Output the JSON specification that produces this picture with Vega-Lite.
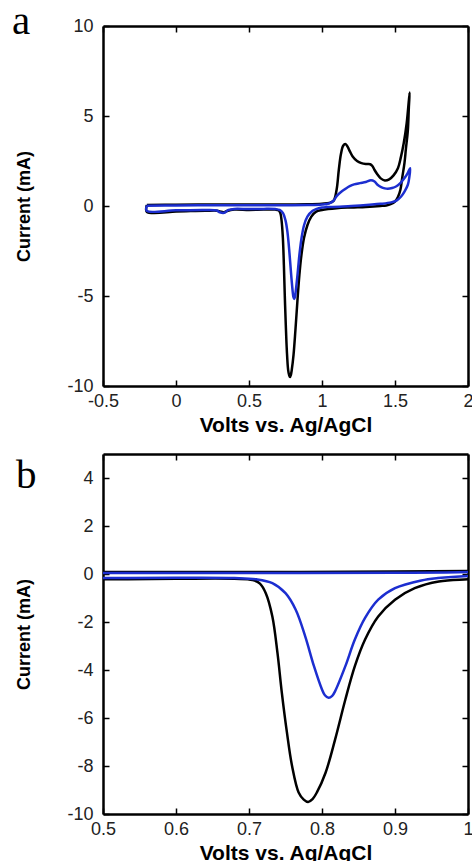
{
  "$schema": "https://vega.github.io/schema/vega-lite/v6.json",
  "padding": {"left": 11, "top": 1, "right": 0, "bottom": 0},
  "spacing": 18,
  "config": {
    "view": {"stroke": null},
    "font": "Liberation Sans",
    "axis": {"grid": false, "domainColor": "black", "domainWidth": 2.5, "tickColor": "black", "tickWidth": 1.5, "tickSize": -6, "labelFont": "Liberation Sans", "labelFontSize": 18, "labelColor": "#222", "labelFlush": false, "labelOverlap": false, "titleFont": "Liberation Sans", "titleFontWeight": "bold", "titleColor": "black"},
    "axisX": {"labelPadding": 12, "titleFontSize": 21, "titlePadding": 4},
    "axisY": {"labelPadding": 16, "titleFontSize": 18, "titlePadding": 33},
    "title": {"font": "Liberation Serif", "fontSize": 41, "fontWeight": "normal", "anchor": "start", "color": "black"}
  },
  "datasets": {
    "cv": [
      {"s": "black", "k": 1, "v": -0.2, "i": 0.05},
      {"s": "black", "k": 2, "v": 0, "i": 0.07},
      {"s": "black", "k": 3, "v": 0.3, "i": 0.08},
      {"s": "black", "k": 4, "v": 0.5, "i": 0.08},
      {"s": "black", "k": 5, "v": 0.7, "i": 0.08},
      {"s": "black", "k": 6, "v": 0.9, "i": 0.1},
      {"s": "black", "k": 7, "v": 1.0, "i": 0.13},
      {"s": "black", "k": 8, "v": 1.05, "i": 0.17},
      {"s": "black", "k": 9, "v": 1.08, "i": 0.3},
      {"s": "black", "k": 10, "v": 1.1, "i": 0.9},
      {"s": "black", "k": 11, "v": 1.115, "i": 2.0},
      {"s": "black", "k": 12, "v": 1.13, "i": 2.9},
      {"s": "black", "k": 13, "v": 1.145, "i": 3.35},
      {"s": "black", "k": 14, "v": 1.16, "i": 3.45},
      {"s": "black", "k": 15, "v": 1.175, "i": 3.3},
      {"s": "black", "k": 16, "v": 1.19, "i": 3.05},
      {"s": "black", "k": 17, "v": 1.21, "i": 2.75},
      {"s": "black", "k": 18, "v": 1.24, "i": 2.5},
      {"s": "black", "k": 19, "v": 1.27, "i": 2.38},
      {"s": "black", "k": 20, "v": 1.3, "i": 2.33},
      {"s": "black", "k": 21, "v": 1.33, "i": 2.32},
      {"s": "black", "k": 22, "v": 1.345, "i": 2.22},
      {"s": "black", "k": 23, "v": 1.36, "i": 2.0},
      {"s": "black", "k": 24, "v": 1.38, "i": 1.75},
      {"s": "black", "k": 25, "v": 1.4, "i": 1.55},
      {"s": "black", "k": 26, "v": 1.43, "i": 1.42},
      {"s": "black", "k": 27, "v": 1.46, "i": 1.48},
      {"s": "black", "k": 28, "v": 1.49, "i": 1.7},
      {"s": "black", "k": 29, "v": 1.52, "i": 2.1},
      {"s": "black", "k": 30, "v": 1.54, "i": 2.7},
      {"s": "black", "k": 31, "v": 1.56, "i": 3.5},
      {"s": "black", "k": 32, "v": 1.58, "i": 4.6},
      {"s": "black", "k": 33, "v": 1.6, "i": 6.3},
      {"s": "black", "k": 34, "v": 1.595, "i": 5.5},
      {"s": "black", "k": 35, "v": 1.588, "i": 4.2},
      {"s": "black", "k": 36, "v": 1.575, "i": 3.2},
      {"s": "black", "k": 37, "v": 1.565, "i": 2.4},
      {"s": "black", "k": 38, "v": 1.55, "i": 1.6},
      {"s": "black", "k": 39, "v": 1.537, "i": 0.9},
      {"s": "black", "k": 40, "v": 1.52, "i": 0.5},
      {"s": "black", "k": 41, "v": 1.5, "i": 0.25},
      {"s": "black", "k": 42, "v": 1.47, "i": 0.1},
      {"s": "black", "k": 43, "v": 1.44, "i": 0.03},
      {"s": "black", "k": 44, "v": 1.4, "i": 0.0},
      {"s": "black", "k": 45, "v": 1.3, "i": -0.05},
      {"s": "black", "k": 46, "v": 1.2, "i": -0.08},
      {"s": "black", "k": 47, "v": 1.1, "i": -0.12},
      {"s": "black", "k": 48, "v": 1.0, "i": -0.22},
      {"s": "black", "k": 49, "v": 0.96, "i": -0.31},
      {"s": "black", "k": 50, "v": 0.927, "i": -0.59},
      {"s": "black", "k": 51, "v": 0.9, "i": -1.07},
      {"s": "black", "k": 52, "v": 0.877, "i": -1.77},
      {"s": "black", "k": 53, "v": 0.859, "i": -2.73},
      {"s": "black", "k": 54, "v": 0.845, "i": -3.84},
      {"s": "black", "k": 55, "v": 0.832, "i": -5.23},
      {"s": "black", "k": 56, "v": 0.818, "i": -6.89},
      {"s": "black", "k": 57, "v": 0.805, "i": -8.27},
      {"s": "black", "k": 58, "v": 0.793, "i": -9.1},
      {"s": "black", "k": 59, "v": 0.787, "i": -9.38},
      {"s": "black", "k": 60, "v": 0.781, "i": -9.5},
      {"s": "black", "k": 61, "v": 0.775, "i": -9.4},
      {"s": "black", "k": 62, "v": 0.768, "i": -9.1},
      {"s": "black", "k": 63, "v": 0.759, "i": -8.0},
      {"s": "black", "k": 64, "v": 0.752, "i": -6.61},
      {"s": "black", "k": 65, "v": 0.745, "i": -4.95},
      {"s": "black", "k": 66, "v": 0.739, "i": -3.29},
      {"s": "black", "k": 67, "v": 0.732, "i": -1.77},
      {"s": "black", "k": 68, "v": 0.723, "i": -0.8},
      {"s": "black", "k": 69, "v": 0.715, "i": -0.4},
      {"s": "black", "k": 70, "v": 0.705, "i": -0.25},
      {"s": "black", "k": 71, "v": 0.68, "i": -0.2},
      {"s": "black", "k": 72, "v": 0.6, "i": -0.2},
      {"s": "black", "k": 73, "v": 0.5, "i": -0.22},
      {"s": "black", "k": 74, "v": 0.4, "i": -0.2},
      {"s": "black", "k": 75, "v": 0.35, "i": -0.28},
      {"s": "black", "k": 76, "v": 0.33, "i": -0.35},
      {"s": "black", "k": 77, "v": 0.31, "i": -0.32},
      {"s": "black", "k": 78, "v": 0.28, "i": -0.26},
      {"s": "black", "k": 79, "v": 0.2, "i": -0.27},
      {"s": "black", "k": 80, "v": 0.1, "i": -0.28},
      {"s": "black", "k": 81, "v": 0, "i": -0.3},
      {"s": "black", "k": 82, "v": -0.2, "i": -0.32},
      {"s": "black", "k": 83, "v": -0.2, "i": 0.05},
      {"s": "blue", "k": 1, "v": -0.2, "i": 0.02},
      {"s": "blue", "k": 2, "v": 0, "i": 0.03},
      {"s": "blue", "k": 3, "v": 0.3, "i": 0.04},
      {"s": "blue", "k": 4, "v": 0.5, "i": 0.04},
      {"s": "blue", "k": 5, "v": 0.7, "i": 0.04},
      {"s": "blue", "k": 6, "v": 0.9, "i": 0.05},
      {"s": "blue", "k": 7, "v": 1.0, "i": 0.08},
      {"s": "blue", "k": 8, "v": 1.05, "i": 0.15},
      {"s": "blue", "k": 9, "v": 1.08, "i": 0.3},
      {"s": "blue", "k": 10, "v": 1.1, "i": 0.55},
      {"s": "blue", "k": 11, "v": 1.13, "i": 0.78},
      {"s": "blue", "k": 12, "v": 1.16, "i": 0.95},
      {"s": "blue", "k": 13, "v": 1.19, "i": 1.1},
      {"s": "blue", "k": 14, "v": 1.22, "i": 1.2},
      {"s": "blue", "k": 15, "v": 1.26, "i": 1.27},
      {"s": "blue", "k": 16, "v": 1.3, "i": 1.33},
      {"s": "blue", "k": 17, "v": 1.335, "i": 1.43},
      {"s": "blue", "k": 18, "v": 1.36, "i": 1.36},
      {"s": "blue", "k": 19, "v": 1.38, "i": 1.18},
      {"s": "blue", "k": 20, "v": 1.405, "i": 1.05},
      {"s": "blue", "k": 21, "v": 1.43, "i": 0.98},
      {"s": "blue", "k": 22, "v": 1.45, "i": 0.96},
      {"s": "blue", "k": 23, "v": 1.48, "i": 1.0},
      {"s": "blue", "k": 24, "v": 1.51, "i": 1.1},
      {"s": "blue", "k": 25, "v": 1.54, "i": 1.3},
      {"s": "blue", "k": 26, "v": 1.565, "i": 1.55},
      {"s": "blue", "k": 27, "v": 1.585, "i": 1.8},
      {"s": "blue", "k": 28, "v": 1.604, "i": 2.1},
      {"s": "blue", "k": 29, "v": 1.598, "i": 1.6},
      {"s": "blue", "k": 30, "v": 1.588, "i": 1.18},
      {"s": "blue", "k": 31, "v": 1.565, "i": 0.8},
      {"s": "blue", "k": 32, "v": 1.542, "i": 0.53},
      {"s": "blue", "k": 33, "v": 1.51, "i": 0.3},
      {"s": "blue", "k": 34, "v": 1.474, "i": 0.2},
      {"s": "blue", "k": 35, "v": 1.4, "i": 0.12},
      {"s": "blue", "k": 36, "v": 1.325, "i": 0.07},
      {"s": "blue", "k": 37, "v": 1.2, "i": 0.0},
      {"s": "blue", "k": 38, "v": 1.12, "i": -0.04},
      {"s": "blue", "k": 39, "v": 1.03, "i": -0.06},
      {"s": "blue", "k": 40, "v": 1.0, "i": -0.08},
      {"s": "blue", "k": 41, "v": 0.959, "i": -0.17},
      {"s": "blue", "k": 42, "v": 0.936, "i": -0.27},
      {"s": "blue", "k": 43, "v": 0.9, "i": -0.59},
      {"s": "blue", "k": 44, "v": 0.877, "i": -1.07},
      {"s": "blue", "k": 45, "v": 0.859, "i": -1.83},
      {"s": "blue", "k": 46, "v": 0.845, "i": -2.73},
      {"s": "blue", "k": 47, "v": 0.832, "i": -3.84},
      {"s": "blue", "k": 48, "v": 0.818, "i": -4.88},
      {"s": "blue", "k": 49, "v": 0.814, "i": -5.08},
      {"s": "blue", "k": 50, "v": 0.809, "i": -5.16},
      {"s": "blue", "k": 51, "v": 0.804, "i": -5.05},
      {"s": "blue", "k": 52, "v": 0.8, "i": -4.81},
      {"s": "blue", "k": 53, "v": 0.789, "i": -3.84},
      {"s": "blue", "k": 54, "v": 0.777, "i": -2.6},
      {"s": "blue", "k": 55, "v": 0.764, "i": -1.49},
      {"s": "blue", "k": 56, "v": 0.75, "i": -0.8},
      {"s": "blue", "k": 57, "v": 0.732, "i": -0.38},
      {"s": "blue", "k": 58, "v": 0.71, "i": -0.22},
      {"s": "blue", "k": 59, "v": 0.68, "i": -0.17},
      {"s": "blue", "k": 60, "v": 0.6, "i": -0.16},
      {"s": "blue", "k": 61, "v": 0.5, "i": -0.17},
      {"s": "blue", "k": 62, "v": 0.4, "i": -0.16},
      {"s": "blue", "k": 63, "v": 0.36, "i": -0.22},
      {"s": "blue", "k": 64, "v": 0.33, "i": -0.38},
      {"s": "blue", "k": 65, "v": 0.3, "i": -0.35},
      {"s": "blue", "k": 66, "v": 0.28, "i": -0.25},
      {"s": "blue", "k": 67, "v": 0.2, "i": -0.22},
      {"s": "blue", "k": 68, "v": 0, "i": -0.24},
      {"s": "blue", "k": 69, "v": -0.2, "i": -0.27},
      {"s": "blue", "k": 70, "v": -0.2, "i": 0.02}
    ]
  },
  "vconcat": [
    {
      "width": 365,
      "height": 360,
      "title": {"text": "a", "dx": -4, "dy": 30},
      "data": {"name": "cv"},
      "layer": [
        {
          "transform": [{"filter": "datum.s === 'black'"}],
          "mark": {"type": "line", "color": "black", "strokeWidth": 2.5, "clip": true, "interpolate": "catmull-rom"},
          "encoding": {
            "x": {"field": "v", "type": "quantitative", "scale": {"domain": [-0.5, 2], "nice": false, "zero": false}, "axis": {"title": "Volts vs. Ag/AgCl", "values": [-0.5, 0, 0.5, 1, 1.5, 2], "labelExpr": "'' + datum.value"}},
            "y": {"field": "i", "type": "quantitative", "scale": {"domain": [-10, 10], "nice": false, "zero": false}, "axis": {"title": "Current (mA)", "values": [-10, -5, 0, 5, 10], "labelExpr": "'' + datum.value"}},
            "order": {"field": "k", "type": "quantitative"}
          }
        },
        {
          "transform": [{"filter": "datum.s === 'blue'"}],
          "mark": {"type": "line", "color": "#1c2ed0", "strokeWidth": 2.5, "clip": true, "interpolate": "catmull-rom"},
          "encoding": {
            "x": {"field": "v", "type": "quantitative", "scale": {"domain": [-0.5, 2], "nice": false, "zero": false}, "axis": {"orient": "top", "title": null, "labels": false, "values": [-0.5, 0, 0.5, 1, 1.5, 2]}},
            "y": {"field": "i", "type": "quantitative", "scale": {"domain": [-10, 10], "nice": false, "zero": false}, "axis": {"orient": "right", "title": null, "labels": false, "values": [-10, -5, 0, 5, 10]}},
            "order": {"field": "k", "type": "quantitative"}
          }
        }
      ],
      "resolve": {"axis": {"x": "independent", "y": "independent"}}
    },
    {
      "width": 365,
      "height": 360,
      "title": {"text": "b", "dx": 0, "dy": 48},
      "data": {"name": "cv"},
      "layer": [
        {
          "transform": [{"filter": "datum.s === 'black'"}],
          "mark": {"type": "line", "color": "black", "strokeWidth": 2.5, "clip": true, "interpolate": "catmull-rom"},
          "encoding": {
            "x": {"field": "v", "type": "quantitative", "scale": {"domain": [0.5, 1], "nice": false, "zero": false}, "axis": {"title": "Volts vs. Ag/AgCl", "values": [0.5, 0.6, 0.7, 0.8, 0.9, 1], "labelExpr": "'' + datum.value"}},
            "y": {"field": "i", "type": "quantitative", "scale": {"domain": [-10, 5], "nice": false, "zero": false}, "axis": {"title": "Current (mA)", "values": [-10, -8, -6, -4, -2, 0, 2, 4], "labelExpr": "'' + datum.value"}},
            "order": {"field": "k", "type": "quantitative"}
          }
        },
        {
          "transform": [{"filter": "datum.s === 'blue'"}],
          "mark": {"type": "line", "color": "#1c2ed0", "strokeWidth": 2.5, "clip": true, "interpolate": "catmull-rom"},
          "encoding": {
            "x": {"field": "v", "type": "quantitative", "scale": {"domain": [0.5, 1], "nice": false, "zero": false}, "axis": {"orient": "top", "title": null, "labels": false, "values": [0.5, 0.6, 0.7, 0.8, 0.9, 1]}},
            "y": {"field": "i", "type": "quantitative", "scale": {"domain": [-10, 5], "nice": false, "zero": false}, "axis": {"orient": "right", "title": null, "labels": false, "values": [-10, -8, -6, -4, -2, 0, 2, 4]}},
            "order": {"field": "k", "type": "quantitative"}
          }
        }
      ],
      "resolve": {"axis": {"x": "independent", "y": "independent"}}
    }
  ]
}
